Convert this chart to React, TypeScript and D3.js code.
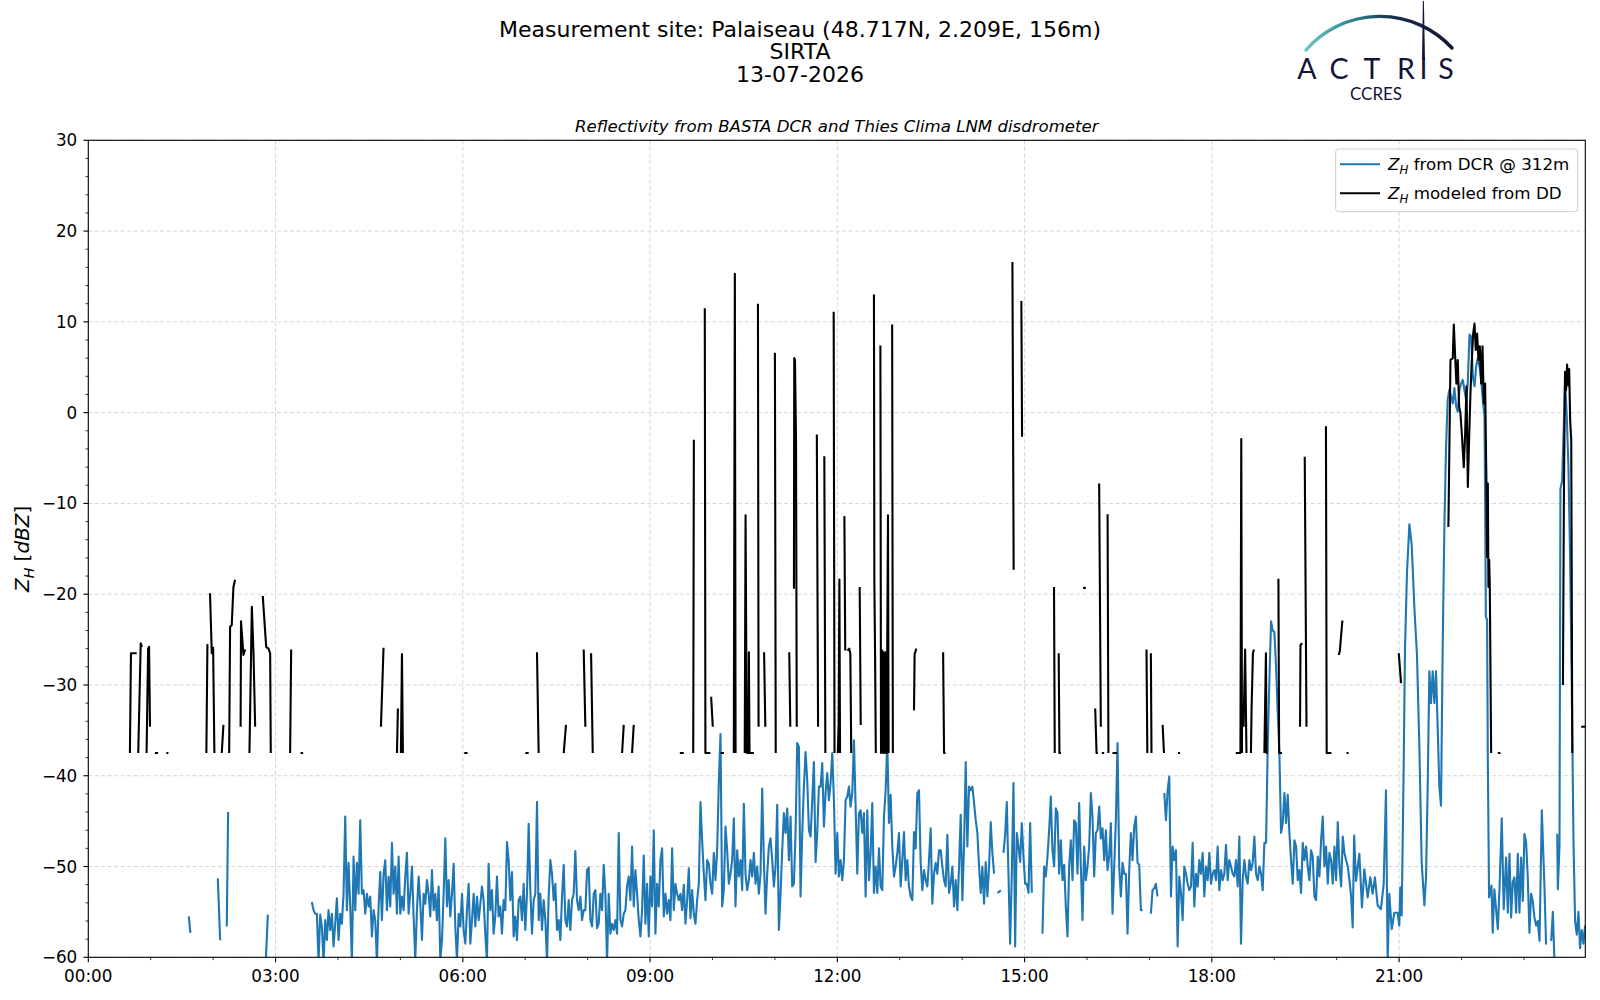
import React from 'react';
import * as d3 from 'd3';

// ---------------- DATA ----------------
const titleLines = ['Measurement site: Palaiseau (48.717N, 2.209E, 156m)', 'SIRTA', '13-07-2026'];
const subtitle = 'Reflectivity from BASTA DCR and Thies Clima LNM disdrometer';
const yTicks = [-60, -50, -40, -30, -20, -10, 0, 10, 20, 30];
const xTickMinutes = [0, 180, 360, 540, 720, 900, 1080, 1260];
const xTickLabels = ['00:00', '03:00', '06:00', '09:00', '12:00', '15:00', '18:00', '21:00'];
const legendLabels = ['from DCR @ 312m', 'modeled from DD'];

// DCR reflectivity at 312 m, regular sampling (minutes)
const DCR_STEP = 1.6035;
const dcrEarly1: [number, number][] = [[96.6, -55.5], [98.1, -57.3]];
const dcrEarly2: [number, number][] = [[124.5, -51.3], [126.7, -58.0], [127.5, -58.1]];
const dcrEarly3: [number, number][] = [[133.1, -56.6], [134.4, -44.0]];
const dcrEarly4: [number, number][] = [[170.6, -60.5], [172.6, -55.3]];

const dcrA = [
  -53.9, -54.8, -55.2, -55.2, -60.5, -55.3, -56.6, -60.5, -55.9, -58.1,
  -54.8, -57.0, -55.2, -58.8, -56.3, -53.5, -58.1, -55.2, -56.3, -53.0,
  -44.5, -54.8, -49.6, -54.4, -60.5, -48.9, -54.8, -49.6, -53.0, -44.9,
  -53.0, -52.6, -55.2, -53.0, -54.4, -53.3, -57.7, -54.8, -55.9, -60.5,
  -54.4, -50.6, -55.9, -50.8, -49.3, -54.8, -51.1, -54.4, -47.4, -53.0,
  -50.0, -55.2, -48.9, -55.2, -53.3, -54.8, -51.1, -48.5, -55.2, -53.0,
  -50.0, -55.5, -60.3, -54.8, -51.1, -54.1, -58.1, -53.0, -54.1, -51.5,
  -53.0, -55.5, -50.4, -54.8, -53.0, -55.9, -52.2, -60.2, -58.1, -53.0,
  -46.9, -54.4, -51.5, -55.5, -53.0, -49.7, -56.6, -60.4, -55.2, -56.6,
  -53.0, -57.0, -58.5, -54.8, -51.9, -58.5, -55.9, -53.0, -56.6, -53.3,
  -55.9, -54.1,
];
const dcrB = [
  -52.2, -53.7, -57.4, -60.5, -49.7, -54.8, -52.6, -57.4, -55.5, -51.1,
  -55.5, -54.4, -57.4, -53.7, -54.8, -47.3, -49.3, -53.7, -50.6, -57.7,
  -55.5, -58.1, -53.7, -53.3, -55.9, -51.9, -57.0, -53.0, -45.3, -52.6,
  -57.4, -53.7, -53.0, -42.9, -55.9, -53.0, -57.0, -53.7, -55.9, -60.4,
  -53.3, -49.3, -50.8, -53.7, -51.9, -57.0, -55.9, -58.1, -53.3, -49.8,
  -55.9, -56.6, -53.7, -57.0, -53.7, -53.0, -48.3, -53.7, -54.8, -53.3,
  -55.9, -54.8, -54.8, -50.4, -50.1, -55.9, -56.6, -53.0, -52.6, -56.8,
  -56.3, -53.0, -54.8, -49.8, -53.0, -60.5, -53.0, -57.4, -56.3, -57.0,
  -55.9, -57.4, -46.3, -55.9, -56.6, -55.2, -54.8, -52.2, -51.1, -53.7,
  -47.8, -54.4, -50.4, -53.0, -55.9, -57.7, -54.8, -48.8, -56.3, -51.9,
  -57.7, -51.1, -54.4, -46.0, -57.4, -51.9, -54.4, -49.3, -48.0, -55.5,
  -53.0, -55.2, -53.7, -55.9, -48.0, -54.8, -51.9, -53.0, -53.7, -53.0,
  -54.8, -52.0, -56.3, -53.7, -50.2, -55.7, -52.6, -55.2, -56.3, -53.7,
  -51.9, -42.9, -47.1, -50.8, -53.7, -49.3, -49.7, -51.9, -53.0, -48.5,
  -51.5, -48.2, -40.7, -35.4, -54.4, -52.6, -45.6, -48.2, -51.9, -50.8,
  -49.3, -44.7, -54.4, -48.2, -51.1, -49.3, -52.6, -43.1, -50.8, -52.6,
  -51.5, -49.3, -51.1, -48.5, -51.9, -50.0, -53.0, -50.8, -41.4, -49.3,
  -55.2, -50.8, -47.8, -46.9, -49.3, -52.2, -50.0, -43.2, -57.0, -53.0,
  -48.2, -44.1, -46.3, -43.6, -49.3, -44.5, -52.2, -51.9, -46.3, -36.4,
  -36.8, -53.3, -46.3, -41.2, -37.4, -40.5, -46.0, -46.7, -42.7, -38.5,
  -49.5, -46.3, -41.2, -41.2, -38.6, -45.6, -41.9, -39.7, -42.7, -40.8,
  -37.5, -42.7, -50.8, -46.3, -51.1, -49.3, -51.5, -49.3, -42.7, -42.3,
  -41.2, -43.4, -41.9, -36.1, -43.4, -50.8, -44.1, -43.8, -46.3, -44.1,
];
const dcrC1 = [
  -53.3, -43.8, -51.5, -48.5, -43.0, -52.9, -50.0, -52.9, -48.0, -52.2,
  -52.6, -44.5, -41.6, -36.4, -45.2, -42.1, -47.8, -51.1, -50.0, -48.5,
  -46.3, -52.2, -49.3, -46.2, -51.5, -49.3, -52.2, -53.3, -53.7, -46.2,
  -48.0, -41.9, -41.6, -49.6, -52.6, -50.4, -51.5, -52.2, -49.3, -45.8,
  -54.1, -50.8, -49.6, -50.8, -48.2, -48.2, -50.0, -51.5, -52.2, -46.5,
  -52.9, -51.9, -50.0, -54.4, -51.5, -54.8, -50.0, -44.3, -53.7, -47.8,
  -38.5, -47.8, -41.2, -41.6, -41.2, -43.0, -44.9, -46.3, -50.0, -52.9,
  -50.0, -54.1, -49.5, -53.3, -50.0, -45.1, -48.5, -50.8,
];
const dcrC2 = [-52.9, -52.8, -52.6];
const dcrC3 = [-48.5, -46.5, -42.9, -50.8, -58.5, -50.8, -40.8, -58.8, -46.3, -47.8, -49.5, -45.2, -48.9, -51.9, -51.9, -52.9, -45.2, -52.9];
const dcrC4 = [
  -57.4, -50.0, -51.1, -48.9, -46.0, -42.3, -48.2, -50.0, -43.6, -44.1,
  -50.8, -47.1, -51.5, -49.8, -54.4, -57.7, -50.0, -47.1, -51.5, -44.9,
  -45.2, -50.8, -43.0, -50.0, -55.9, -47.8, -51.5, -50.0, -47.8, -41.9,
  -44.5, -51.1, -46.3, -46.0, -43.4, -46.9, -45.8, -49.3, -46.0, -50.4,
  -48.9, -45.2, -55.2, -50.0, -44.9, -36.4, -50.0, -53.3, -49.6, -50.8,
  -50.8, -57.4, -50.4, -46.3, -49.3, -45.6, -44.5, -49.6, -49.8, -54.8, -54.8,
];
const dcrC5 = [-55.2, -52.6, -52.4, -51.9, -53.3];
const dcrC6 = [
  -41.9, -44.9, -41.6, -40.1, -53.3, -47.8, -49.3, -48.2, -58.8, -51.1,
  -52.9, -55.9, -50.0, -50.8, -51.9, -52.6, -52.2, -47.4, -54.4, -50.8,
  -52.2, -49.3, -50.8, -48.5, -53.3, -50.0, -51.5, -48.5, -51.9, -50.8,
  -50.4, -51.5, -47.8, -52.6, -50.4, -51.5, -50.8, -47.6, -51.5, -49.3,
  -50.0, -50.8, -51.1, -49.3, -52.2, -46.7, -58.5, -51.5, -49.3, -51.1,
  -51.9, -49.3, -50.4, -49.6, -46.7, -50.8, -51.5, -50.0, -50.8, -52.6,
  -47.4, -47.4, -36.8, -29.5, -23.0, -24.0, -24.2, -28.0, -33.0, -37.5,
  -46.3, -45.2, -41.9, -45.2, -42.1, -46.3, -49.3, -51.9, -47.1, -47.8,
  -51.5, -50.4, -52.9, -47.4, -49.3, -47.8, -50.0, -51.5, -48.2, -48.9,
  -53.3, -53.7, -48.9, -51.1, -47.1, -44.5, -50.0, -47.8, -51.9, -48.5,
  -49.3, -51.9, -47.8, -51.5, -45.1, -50.0, -52.2, -46.7, -48.5, -49.3,
  -50.0, -51.5, -53.3,
];
const dcrEvening: [number, number][] = [
  [1215.4, -56.7], [1216.8, -46.6], [1218.6, -51.6], [1221.8, -48.6], [1224.3, -54.5], [1226.6, -50.3],
  [1229.8, -53.4], [1232.3, -51.2], [1234.6, -53.0], [1236.8, -51.2], [1239.4, -54.3], [1242.6, -54.7],
  [1245.2, -51.9], [1247.4, -41.6], [1249.0, -60.5], [1250.6, -53.0], [1252.9, -56.9], [1255.4, -55.1],
  [1258.6, -55.1], [1260.2, -56.5], [1261.2, -52.3], [1262.5, -55.4], [1264.4, -39.0], [1265.7, -25.9],
  [1267.6, -17.6], [1269.9, -12.3], [1272.1, -14.5], [1274.7, -21.5], [1277.2, -26.7], [1279.5, -36.8],
  [1281.7, -49.5], [1284.3, -54.3], [1285.9, -51.2], [1287.5, -41.2], [1289.1, -28.5], [1290.7, -32.0],
  [1292.3, -28.5], [1293.9, -32.0], [1295.5, -28.5], [1297.1, -34.6], [1298.7, -41.2], [1300.3, -43.3],
  [1301.9, -25.9], [1303.5, -12.8], [1305.1, -4.0], [1306.7, 1.4], [1308.3, 2.5], [1310.0, 1.8],
  [1311.6, 1.0], [1313.2, 2.7], [1314.8, 0.7], [1316.4, 0.1], [1318.0, 2.5], [1319.6, 3.2],
  [1321.2, 3.6], [1322.8, 2.5], [1324.4, 1.4], [1326.0, 3.2], [1327.7, 8.6], [1329.3, 8.4],
  [1330.9, 4.0], [1332.5, 2.9], [1334.1, 5.1], [1335.7, 6.0], [1337.3, 5.1], [1338.9, 3.6],
  [1340.5, 1.4], [1342.1, -0.4], [1342.7, -9.6], [1343.4, -22.5], [1344.6, -22.8], [1345.3, -38.3],
  [1346.5, -53.4], [1348.8, -52.1], [1350.0, -57.3], [1351.6, -52.5], [1354.9, -56.9], [1356.5, -52.5],
  [1358.7, -44.7], [1360.6, -54.7], [1362.9, -49.0], [1364.5, -55.1], [1366.1, -48.6], [1367.7, -55.6],
  [1369.3, -51.7], [1370.9, -51.2], [1372.5, -55.1], [1374.1, -48.6], [1375.7, -55.1], [1377.3, -49.0],
  [1378.9, -53.8], [1380.5, -46.4], [1382.1, -47.3], [1383.7, -51.2], [1385.3, -57.3], [1386.9, -53.0],
  [1388.5, -53.8], [1390.1, -55.6], [1391.7, -56.5], [1393.3, -56.0], [1395.0, -58.2], [1397.2, -43.8],
  [1399.7, -52.1], [1401.3, -58.6],
];
const dcrLate1: [number, number][] = [[1406.2, -58.2], [1407.8, -55.0], [1409.4, -60.5]];
const dcrLate2: [number, number][] = [
  [1412.0, -46.4], [1412.6, -52.5], [1414.2, -47.7], [1415.1, -8.4], [1416.7, -7.5], [1418.3, -1.5],
  [1419.6, 3.6], [1421.2, -0.5], [1422.8, -6.0], [1424.4, -16.0], [1426.0, -30.0], [1427.6, -47.0],
  [1429.2, -56.0], [1430.8, -57.5], [1432.4, -55.0], [1434.0, -59.0], [1435.6, -57.0], [1437.2, -58.5],
  [1438.8, -56.5],
];

// Disdrometer-modeled reflectivity: [minute, dBZ], NaN = gap
const G: [number, number] = [NaN, NaN];
const ddMorning: [number, number][] = [
  [40, -37.5], [41, -26.5], [46.5, -26.5], G,
  [48, -37.5], [50.4, -25.4], [51.6, -25.8], G,
  [56, -37.5], [57.5, -26.0], [58.4, -25.8], [59.3, -34.6], G,
  [64, -37.5], [67, -37.5], G,
  [75, -37.5], [77, -37.5], G,
  [113.5, -37.5], [114.5, -25.5], G,
  [117, -19.9], [118.7, -26.5], [120, -25.9], [121.2, -37.5], G,
  [128.3, -37.5], [129.9, -34.4], G,
  [135.4, -37.5], [136.3, -23.6], [137.9, -23.4], [139.5, -19.2], [141.1, -18.4], G,
  [146.4, -34.6], [146.8, -23.0], [149.1, -26.7], [150.7, -26.1], G,
  [154.9, -37.5], [157.2, -21.4], [158.8, -26.5], [160.4, -34.6], G,
  [167.7, -20.2], [171, -25.8], [173.2, -26.0], [174.8, -26.5], [175.4, -37.5], G,
  [194, -37.5], [195, -26.1], G,
  [204, -37.5], [206.5, -37.5], G,
  [281.3, -34.6], [283.8, -25.9], G,
  [296.7, -37.5], [297.6, -32.6], G,
  [300.5, -37.5], [301.5, -26.6], [302.4, -37.5], G,
  [361.4, -37.5], [364.6, -37.5], G,
  [420.1, -37.5], [423.3, -37.5], G,
  [431.3, -26.4], [432.9, -37.5], G,
  [457, -37.5], [459.2, -34.4], G,
  [476.2, -26.1], [477.8, -34.6], G,
  [483.3, -26.5], [484.9, -37.5], G,
  [513.1, -37.5], [514.7, -34.4], G,
  [522.7, -37.5], [524.3, -34.4], G,
  [568.6, -37.5], [572.4, -37.5], G,
];
const ddMidday: [number, number][] = [
  [581.5, -37.5], [582.1, -3.0], G,
  [592.6, 11.5], [593.2, -37.5], [598, -37.5], G,
  [598.7, -31.3], [600.3, -34.6], G,
  [607.7, -37.5], [611, -37.5], G,
  [620.5, -37.5], [621.5, 15.3], [622.2, -37.5], G,
  [631, -37.5], [631.8, -11.3], [633, -37.5], [634.5, -37.5], [635, -26.4], [635.6, -37.5], [639.8, -37.5], G,
  [643.7, 12.0], [644.3, -34.6], G,
  [649.6, -26.4], [650.8, -34.6], G,
  [660, 6.6], [660.8, -37.5], G,
  [673.8, -26.4], [674.8, -34.6], G,
  [678.3, -19.4], [678.6, 6.0], [679.3, 5.8], [680.3, -3.0], [681, -34.6], G,
  [700.3, -2.4], [701.5, -34.6], G,
  [707.5, -4.8], [708.5, -37.5], G,
  [716.5, 11.1], [717.3, -37.5], G,
  [720.5, -37.5], [721.3, -34.2], [722, -18.4], [722.6, -37.5], G,
  [726.8, -11.4], [727.6, -26.2], G,
  [729.6, -26.2], [731.5, -26.0], [732.5, -26.5], [733.4, -37.5], G,
  [741.5, -19.2], [742.5, -34.4], G,
  [755.2, 13.0], [755.6, -18.6], [756.3, -26.7], [757, -37.5], G,
  [761.4, 7.4], [762, -37.5], [763.2, -26.2], [764, -37.5], [764.8, -26.4], [765.6, -37.5],
  [766.5, -26.4], [767.4, -37.5], [768.7, -11.3], [769.3, -37.5], G,
  [772.7, 9.7], [773.4, -37.5], G,
  [793.7, -32.8], [794.3, -26.6], [796, -26.0], G,
  [821.7, -26.4], [822.6, -37.5], [824, -37.5], G,
  [888.3, 16.6], [889.5, -17.3], G,
  [896.9, 12.3], [897.6, -2.65], G,
];
const ddAfternoon: [number, number][] = [
  [928.3, -19.2], [929, -37.5], G,
  [932.8, -26.5], [933.5, -37.5], [935, -37.5], G,
  [956.3, -19.3], [958.9, -19.3], G,
  [967.9, -32.6], [969.2, -37.5], [970.5, -37.5], G,
  [971.7, -7.8], [973.3, -34.6], G,
  [974.2, -37.5], [976.5, -37.5], G,
  [979.8, -11.2], [980.6, -37.5], G,
  [984.5, -37.5], [989, -37.5], G,
  [1017.2, -26.1], [1018, -37.5], G,
  [1021.4, -26.5], [1022, -37.5], G,
  [1032.7, -34.4], [1034, -37.5], G,
  [1047.5, -37.5], [1049.5, -37.5], G,
  [1103, -37.5], [1107.5, -37.5], [1108.3, -2.9], [1109, -37.5], G,
  [1110.5, -34.6], [1112, -26.1], [1113.3, -37.5], G,
  [1117.6, -37.5], [1118.2, -32.6], [1119.5, -26.5], [1120.5, -26.1], G,
  [1130.5, -37.5], [1132, -26.5], [1132.6, -37.5], [1133.7, -37.5], G,
  [1144, -18.3], [1144.7, -37.5], [1147.5, -37.5], G,
  [1164.8, -34.6], [1165.2, -25.6], [1167, -25.4], G,
  [1169.3, -4.85], [1171, -34.6], G,
  [1189.7, -1.5], [1190.4, -37.5], [1195, -37.5], G,
  [1202, -26.7], [1203, -26.3], [1205.5, -22.9], G,
  [1209.5, -37.5], [1211.5, -37.5], G,
];
const ddEvening: [number, number][] = [
  [1259.7, -26.5], [1261.9, -29.8], G,
  [1307.4, -12.6], [1309.4, 5.8], [1311.6, 6.0], [1312.6, 9.7], [1313.9, 6.2], [1315.1, 3.2],
  [1316.4, 5.8], [1317.7, 0.7], [1319, -0.1], [1320.3, -2.3], [1322.2, -6.0], [1323.5, -2.3],
  [1324.8, 2.9], [1326.1, -8.2], [1327.3, -3.0], [1328.6, 2.1], [1329.9, 5.8], [1331.2, 8.7],
  [1332.5, 9.8], [1333.7, 6.9], [1335, 8.7], [1336.3, 5.8], [1337.6, 7.3], [1338.9, 3.2],
  [1340.2, 7.3], [1341.4, 1.0], [1342.7, 3.2], [1344, -8.2], [1344.6, -15.9], [1345.3, -7.8],
  [1345.9, -19.2], [1346.6, -16.2], [1347.2, -19.2], [1348.5, -37.5], G,
  [1354.9, -37.5], [1357.5, -37.5], G,
  [1417.5, -30.0], [1418.5, -8.0], [1419.5, 4.5], [1420.5, 2.5], [1421.5, 5.3], [1422.5, 3.0],
  [1423.5, 4.8], [1424.5, -1.0], [1425.5, -3.0], [1426.5, -37.5], G,
  [1435, -34.6], [1439.5, -34.6],
];

// ---------------- LAYOUT ----------------
const W = 1600;
const H = 1000;
const PL = 88.3, PR = 1585.3, PT = 140.3, PB = 957.3;
const FONT = '"DejaVu Sans", Verdana, sans-serif';
const BLUE = '#1f77b4';
const NAVY = '#14143a';
const logoLetters = ['A', 'C', 'T', 'R', 'I', 'S'];
const logoLetterX = [1307, 1339, 1372, 1406, 1423.5, 1446];

const block = (start: number, values: number[]): [number, number][] =>
  values.map((v, i) => [start + i * DCR_STEP, v] as [number, number]);

export default function App() {
  const x = d3.scaleLinear().domain([0, 1439]).range([PL, PR]);
  const y = d3.scaleLinear().domain([-60, 30]).range([PB, PT]);
  const line = d3
    .line<[number, number]>()
    .defined((d) => !isNaN(d[1]))
    .x((d) => x(d[0]))
    .y((d) => y(d[1]));

  const dcrRuns: [number, number][][] = [
    dcrEarly1,
    dcrEarly2,
    dcrEarly3,
    dcrEarly4,
    [...block(214.9, dcrA), ...block(378.4, dcrB), ...block(747.2, dcrC1)],
    block(873.9, dcrC2),
    block(879.7, dcrC3),
    block(917.2, dcrC4),
    block(1021.4, dcrC5),
    [...block(1034.3, dcrC6), ...dcrEvening],
    dcrLate1,
    dcrLate2,
  ];
  const ddAll = [...ddMorning, ...ddMidday, ...ddAfternoon, ...ddEvening];

  const yMinor = d3.range(-60, 31, 2).filter((v) => v % 10 !== 0);
  const xMinor = d3.range(0, 1440, 60).filter((m) => m % 180 !== 0);

  return (
    <svg
      width={W}
      height={H}
      viewBox={`0 0 ${W} ${H}`}
      style={{ position: 'absolute', left: 0, top: 0, background: '#fff' }}
      fontFamily={FONT}
    >
      <defs>
        <clipPath id="plotClip">
          <rect x={PL} y={PT} width={PR - PL} height={PB - PT} />
        </clipPath>
        <linearGradient id="arcGrad" x1="1306" y1="0" x2="1452" y2="0" gradientUnits="userSpaceOnUse">
          <stop offset="0" stopColor="#6cc4c0" />
          <stop offset="0.3" stopColor="#2f8a95" />
          <stop offset="0.6" stopColor="#1a2a4a" />
          <stop offset="1" stopColor={NAVY} />
        </linearGradient>
      </defs>
      <rect x={0} y={0} width={W} height={H} fill="#fff" />

      {/* Titles */}
      {titleLines.map((t, i) => (
        <text key={t} x={800} y={36.5 + i * 22.8} textAnchor="middle" fontSize={22} fill="#000">
          {t}
        </text>
      ))}
      <text x={(PL + PR) / 2} y={132} textAnchor="middle" fontSize={16.6} fontStyle="italic" fill="#000">
        {subtitle}
      </text>

      {/* Logo */}
      <g>
        <path d="M1306,50 A98,98 0 0,1 1452,48" fill="none" stroke="url(#arcGrad)" strokeWidth={3.4} strokeLinecap="round" />
        <polygon points="1422.9,1 1423.9,1 1425,60 1422,60" fill={NAVY} />
        {logoLetters.map((ch, i) => (
          <text
            key={ch + i}
            x={logoLetterX[i]}
            y={78.5}
            textAnchor="middle"
            fontFamily="Lato, 'Open Sans', sans-serif"
            fontSize={28.5}
            fill={NAVY}
          >
            {ch}
          </text>
        ))}
        <text x={1376} y={99.5} textAnchor="middle" fontFamily="Lato, 'Open Sans', sans-serif" fontSize={17} fill={NAVY}>
          CCRES
        </text>
      </g>

      {/* Grid */}
      <g stroke="#d0d0d0" strokeWidth={0.9} strokeDasharray="4,2.5">
        {xTickMinutes.map((m) => (
          <line key={'gx' + m} x1={x(m)} x2={x(m)} y1={PT} y2={PB} />
        ))}
        {yTicks.map((v) => (
          <line key={'gy' + v} x1={PL} x2={PR} y1={y(v)} y2={y(v)} />
        ))}
      </g>

      {/* Data */}
      <g clipPath="url(#plotClip)" fill="none" strokeLinejoin="round" strokeLinecap="butt">
        {dcrRuns.map((r, i) => (
          <path key={'b' + i} d={line(r) || ''} stroke={BLUE} strokeWidth={2.1} />
        ))}
        <path d={line(ddAll) || ''} stroke="#000" strokeWidth={2.1} />
      </g>

      {/* Spines */}
      <rect x={PL} y={PT} width={PR - PL} height={PB - PT} fill="none" stroke="#000" strokeWidth={1.1} />

      {/* Ticks */}
      <g stroke="#000" strokeWidth={1.1}>
        {yTicks.map((v) => (
          <line key={'ty' + v} x1={PL - 4.9} x2={PL} y1={y(v)} y2={y(v)} />
        ))}
        {yMinor.map((v) => (
          <line key={'tym' + v} x1={PL - 2.8} x2={PL} y1={y(v)} y2={y(v)} strokeWidth={0.8} />
        ))}
        {xTickMinutes.map((m) => (
          <line key={'tx' + m} x1={x(m)} x2={x(m)} y1={PB} y2={PB + 4.9} />
        ))}
        {xMinor.map((m) => (
          <line key={'txm' + m} x1={x(m)} x2={x(m)} y1={PB} y2={PB + 2.8} strokeWidth={0.8} />
        ))}
      </g>
      {yTicks.map((v) => (
        <text key={'ly' + v} x={PL - 11} y={y(v) + 6} textAnchor="end" fontSize={16.8} fill="#000">
          {v < 0 ? '\u2212' + Math.abs(v) : String(v)}
        </text>
      ))}
      {xTickMinutes.map((m, i) => (
        <text key={'lx' + m} x={x(m)} y={982} textAnchor="middle" fontSize={16.8} fill="#000">
          {xTickLabels[i]}
        </text>
      ))}

      {/* Y label */}
      <text transform={`translate(29,${(PT + PB) / 2}) rotate(-90)`} textAnchor="middle" fontSize={20} fill="#000">
        <tspan fontStyle="italic">Z</tspan>
        <tspan fontStyle="italic" fontSize={14} dy={4.5}>H</tspan>
        <tspan dy={-4.5}> [</tspan>
        <tspan fontStyle="italic">dBZ</tspan>
        <tspan>]</tspan>
      </text>

      {/* Legend */}
      <g>
        <rect x={1335.7} y={149} width={242} height={62.7} rx={3} fill="#fff" fillOpacity={0.8} stroke="#cccccc" strokeWidth={1} />
        {[BLUE, '#000'].map((c, i) => (
          <g key={'lg' + i}>
            <line x1={1340} x2={1380} y1={164.3 + i * 29} y2={164.3 + i * 29} stroke={c} strokeWidth={2.1} />
            <text x={1388} y={170.3 + i * 29} fontSize={16.7} fill="#000">
              <tspan fontStyle="italic">Z</tspan>
              <tspan fontStyle="italic" fontSize={11.8} dy={4}>H</tspan>
              <tspan dy={-4}> {legendLabels[i]}</tspan>
            </text>
          </g>
        ))}
      </g>
    </svg>
  );
}
